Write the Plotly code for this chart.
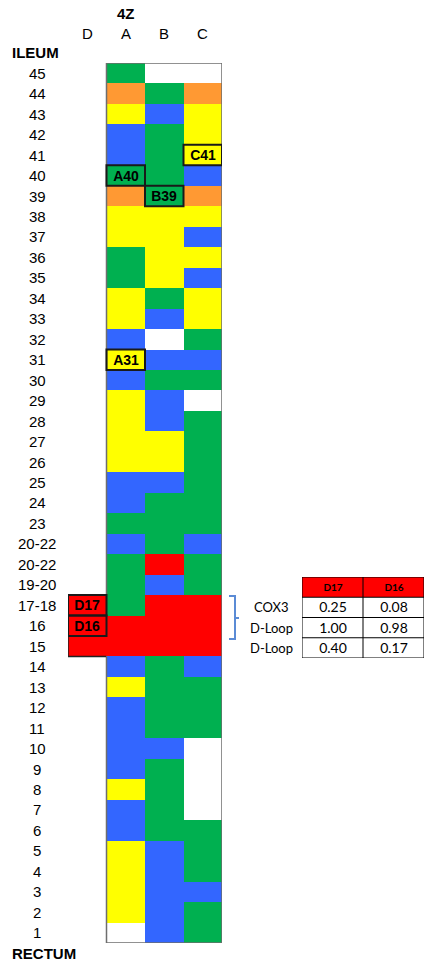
import plotly.graph_objects as go

# Section labels, top (ileum end) to bottom (rectum end)
row_labels = ["45", "44", "43", "42", "41", "40", "39", "38", "37", "36", "35",
              "34", "33", "32", "31", "30", "29", "28", "27", "26", "25", "24",
              "23", "20-22", "20-22", "19-20", "17-18", "16", "15", "14", "13",
              "12", "11", "10", "9", "8", "7", "6", "5", "4", "3", "2", "1"]

columns = ["D", "A", "B", "C"]

# Colour class per section and column: G green, O orange, Y yellow,
# B blue, R red, W white, None = no sample
col_D = [None] * 26 + ["R", "R", "R"] + [None] * 14
col_A = ["G", "O", "Y", "B", "B", "G", "O", "Y", "Y", "G", "G", "Y", "Y", "B",
         "Y", "B", "Y", "Y", "Y", "Y", "B", "B", "G", "B", "G", "G", "G", "R",
         "R", "B", "Y", "B", "B", "B", "B", "Y", "B", "B", "Y", "Y", "Y", "Y", "W"]
col_B = ["W", "G", "B", "G", "G", "G", "G", "Y", "Y", "Y", "Y", "G", "B", "W",
         "B", "G", "B", "B", "Y", "Y", "B", "G", "G", "G", "R", "B", "R", "R",
         "R", "G", "G", "G", "G", "B", "G", "G", "G", "G", "B", "B", "B", "B", "B"]
col_C = ["W", "O", "Y", "Y", "Y", "B", "O", "Y", "B", "Y", "B", "Y", "Y", "G",
         "B", "G", "W", "G", "G", "G", "G", "G", "G", "B", "G", "G", "R", "R",
         "R", "B", "G", "G", "G", "W", "W", "W", "W", "G", "G", "G", "B", "G", "G"]

# Highlighted (sequenced) samples: (column, section label index, label)
highlighted = [("C", 4, "C41"), ("A", 5, "A40"), ("B", 6, "B39"),
               ("A", 14, "A31"), ("D", 26, "D17"), ("D", 27, "D16")]

# Side table of values for the two D samples
table_rows = ["COX3", "D-Loop", "D-Loop"]
table_cols = ["D17", "D16"]
d17_values = ["0.25", "1.00", "0.40"]
d16_values = ["0.08", "0.98", "0.17"]

class_order = ["W", "G", "O", "Y", "B", "R"]
class_colors = {"W": "#FFFFFF", "G": "#00B050", "O": "#FF9933",
                "Y": "#FFFF00", "B": "#3366FF", "R": "#FF0000"}

W, H = 425, 972
FONT = "Liberation Sans, Arial, sans-serif"
TFONT = "Lato, Liberation Sans, sans-serif"


def px(x):
    return x / W


def py(y):
    return 1 - y / H


n = len(row_labels)
col_data = [col_D, col_A, col_B, col_C]

# z matrix: rows x columns
z = []
text = []
for i in range(n):
    zr, tr = [], []
    for c in range(len(columns)):
        v = col_data[c][i]
        zr.append(None if v is None else class_order.index(v))
        tr.append("")
    z.append(zr)
    text.append(tr)
for col, ri, lab in highlighted:
    text[ri][columns.index(col)] = lab

# stepped discrete colour scale
k = len(class_order)
colorscale = []
for j, cls in enumerate(class_order):
    colorscale.append([j / k, class_colors[cls]])
    colorscale.append([(j + 1) / k, class_colors[cls]])

fig = go.Figure()
fig.add_trace(go.Heatmap(
    z=z, x=list(range(len(columns))), y=list(range(n)),
    text=text, texttemplate="%{text}",
    textfont=dict(family=FONT, size=14, color="black", weight="bold"),
    colorscale=colorscale, zmin=-0.5, zmax=k - 0.5, showscale=False,
    xgap=0, ygap=0, hoverinfo="skip",
))

# ---- value table (header row + value rows) on its own axes ----
nt = len(table_rows)
ncol = len(table_cols)
fig.add_trace(go.Heatmap(
    z=[[1] * ncol], x=list(range(ncol)), y=[0],
    text=[table_cols], texttemplate="%{text}",
    textfont=dict(family=TFONT, size=10, color="black", weight="bold"),
    colorscale=[[0, "#FFFFFF"], [1, "#FF0000"]], zmin=0, zmax=1,
    showscale=False, hoverinfo="skip", xaxis="x2", yaxis="y2",
))
body_text = [[d17_values[r], d16_values[r]] for r in range(nt)]
fig.add_trace(go.Heatmap(
    z=[[0] * ncol for _ in range(nt)], x=list(range(ncol)),
    y=list(range(1, nt + 1)),
    text=body_text, texttemplate="%{text}",
    textfont=dict(family=TFONT, size=14, color="black"),
    colorscale=[[0, "#FFFFFF"], [1, "#FF0000"]], zmin=0, zmax=1,
    showscale=False, hoverinfo="skip", xaxis="x2", yaxis="y2",
))

grid_top, grid_bottom = 63, 943
hidden = dict(showgrid=False, zeroline=False, showticklabels=False, ticks="")
fig.update_layout(
    width=W, height=H, margin=dict(l=0, r=0, t=0, b=0),
    paper_bgcolor="white", plot_bgcolor="white", showlegend=False,
    xaxis=dict(domain=[px(68), px(222)], range=[-0.5, len(columns) - 0.5], **hidden),
    yaxis=dict(domain=[py(grid_bottom), py(grid_top)], range=[n - 0.5, -0.5], **hidden),
    xaxis2=dict(domain=[px(302), px(424)], range=[-0.5, ncol - 0.5],
                anchor="y2", **hidden),
    yaxis2=dict(domain=[py(658), py(577)], range=[nt + 0.5, -0.5],
                anchor="x2", **hidden),
)

# table rules
for r in range(nt + 2):
    fig.add_shape(type="line", xref="x2", yref="y2", x0=-0.5, x1=ncol - 0.5,
                  y0=r - 0.5, y1=r - 0.5, line=dict(color="black", width=1))
for c in range(ncol + 1):
    fig.add_shape(type="line", xref="x2", yref="y2", x0=c - 0.5, x1=c - 0.5,
                  y0=-0.5, y1=nt + 0.5, line=dict(color="black", width=1))
for r, lab in enumerate(table_rows):
    fig.add_annotation(x=px(271), xref="paper", y=r + 1, yref="y2",
                       text=lab, showarrow=False, xanchor="center", yanchor="middle",
                       font=dict(family=TFONT, size=13, color="black"))

# outline of the A-C block (open on the D side next to the red D samples)
d_rows = [i for i, v in enumerate(col_D) if v is not None]
d_top, d_bot = min(d_rows) - 0.5, max(d_rows) + 0.5
fig.add_shape(type="path", xref="x", yref="y",
              path=f"M 0.5,{d_top} L 0.5,-0.5 L 3.5,-0.5 L 3.5,{n - 0.5} "
                   f"L 0.5,{n - 0.5} L 0.5,{d_bot}",
              line=dict(color="#6E6E6E", width=1.5))
fig.add_shape(type="path", xref="x", yref="y",
              path=f"M 0.5,{d_top} L -0.5,{d_top} L -0.5,{d_bot} L 0.5,{d_bot}",
              line=dict(color="#222222", width=1.5))

# boxes around highlighted samples
for col, ri, lab in highlighted:
    c = columns.index(col)
    fig.add_shape(type="rect", xref="x", yref="y",
                  x0=c - 0.5, x1=c + 0.5, y0=ri - 0.5, y1=ri + 0.5,
                  line=dict(color="#1A1A1A", width=2))

# section labels
for i, lab in enumerate(row_labels):
    fig.add_annotation(x=px(37), xref="paper", y=i, yref="y", text=lab,
                       showarrow=False, xanchor="center", yanchor="middle",
                       font=dict(family=FONT, size=15, color="black"))
fig.add_annotation(x=px(10), xref="paper", y=py(53), yref="paper", text="<b>ILEUM</b>",
                   showarrow=False, xanchor="left", yanchor="middle",
                   font=dict(family=FONT, size=15, color="black"))
fig.add_annotation(x=px(10), xref="paper", y=py(953), yref="paper", text="<b>RECTUM</b>",
                   showarrow=False, xanchor="left", yanchor="middle",
                   font=dict(family=FONT, size=15, color="black"))

# column headers
for c, name in enumerate(columns):
    fig.add_annotation(x=c, xref="x", y=py(33), yref="paper", text=name,
                       showarrow=False, xanchor="center", yanchor="middle",
                       font=dict(family=FONT, size=15, color="black"))
fig.add_annotation(x=columns.index("A"), xref="x", y=py(13), yref="paper", text="<b>4Z</b>",
                   showarrow=False, xanchor="center", yanchor="middle",
                   font=dict(family=FONT, size=15, color="black"))

# brace linking the table to the D samples
fig.add_shape(type="path", xref="paper", yref="paper",
              path=f"M {px(229)},{py(596)} L {px(235)},{py(596)} L {px(235)},{py(639)} "
                   f"L {px(229)},{py(639)} M {px(235)},{py(618)} L {px(239)},{py(618)}",
              line=dict(color="#5B8BD5", width=2))

fig.write_html("out.html")
